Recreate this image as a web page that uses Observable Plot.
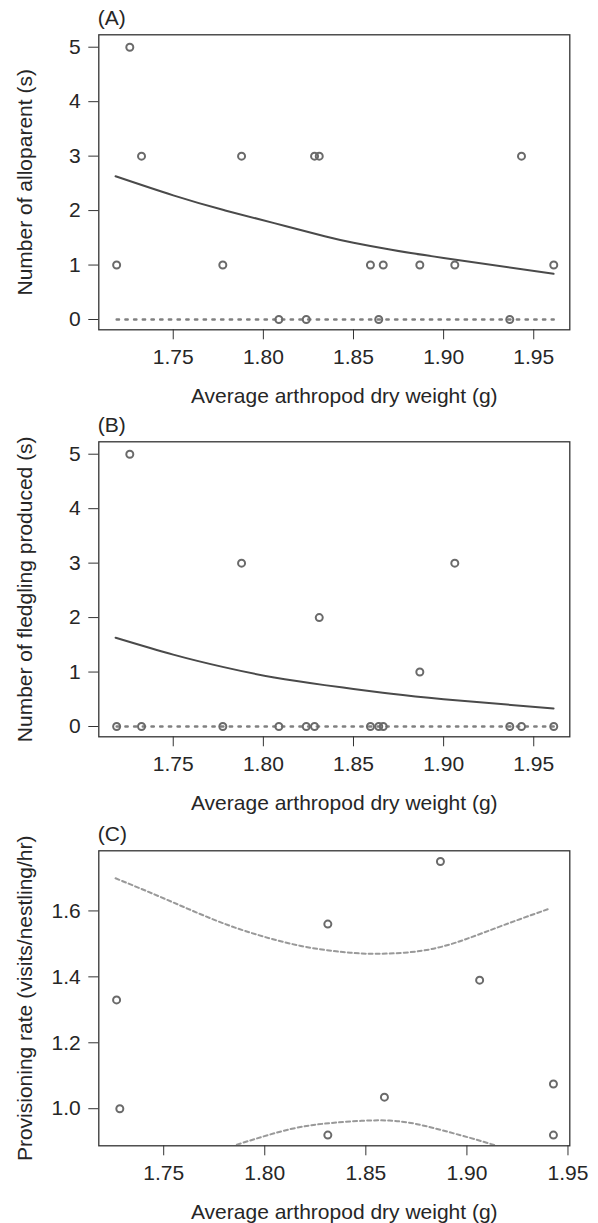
<!DOCTYPE html>
<html>
<head>
<meta charset="utf-8">
<script src="https://cdn.jsdelivr.net/npm/d3@7"></script>
<script src="https://cdn.jsdelivr.net/npm/@observablehq/plot@0.6"></script>
<style>
  html, body { margin: 0; padding: 0; background: #fff; }
  #chart svg { display: block; }
</style>
</head>
<body>
<div id="chart"></div>
<script>
// ---------- data ----------
const weightAB = [1.7186, 1.7259, 1.7324, 1.7775, 1.7879, 1.8086, 1.8238, 1.8284, 1.8310,
                  1.8594, 1.8640, 1.8665, 1.8868, 1.9062, 1.9367, 1.9432, 1.9611];
const alloparents = [1, 5, 3, 1, 3, 0, 0, 3, 3, 1, 0, 1, 1, 1, 0, 3, 1];
const fledglings  = [0, 5, 0, 0, 3, 0, 0, 0, 2, 0, 0, 0, 1, 3, 0, 0, 0];

const fitX  = [1.718, 1.750, 1.778, 1.806, 1.834, 1.850, 1.871, 1.900, 1.961];
const fitA  = [2.63, 2.28, 2.01, 1.77, 1.53, 1.41, 1.28, 1.13, 0.84];
const fitB  = [1.63, 1.32, 1.09, 0.90, 0.76, 0.69, 0.60, 0.50, 0.33];
const zeroX = [1.7186, 1.9611];
const zeroY = [0, 0];

const weightC = [1.7267, 1.7283, 1.8312, 1.8312, 1.8592, 1.8869, 1.9063, 1.9428, 1.9428];
const provRate = [1.33, 1.00, 1.56, 0.92, 1.035, 1.75, 1.39, 1.075, 0.92];

const upperX = [1.7262, 1.7451, 1.7633, 1.7814, 1.7995, 1.8185, 1.8374, 1.8556,
                1.8786, 1.8984, 1.9182, 1.9413];
const upperY = [1.699, 1.651, 1.603, 1.558, 1.522, 1.493, 1.476, 1.470,
                1.480, 1.512, 1.557, 1.608];
const lowerX = [1.7862, 1.8127, 1.8353, 1.8617, 1.8824, 1.9013, 1.9145];
const lowerY = [0.891, 0.938, 0.958, 0.964, 0.943, 0.912, 0.888];

const xTicks = [1.75, 1.80, 1.85, 1.90, 1.95];
const yTicksAB = [0, 1, 2, 3, 4, 5];
const yTicksC = [1.0, 1.2, 1.4, 1.6];

const xLabel = "Average arthropod dry weight (g)";
const yLabels = ["Number of alloparent (s)", "Number of fledgling produced (s)", "Provisioning rate (visits/nestling/hr)"];
const panelTags = ["(A)", "(B)", "(C)"];

// ---------- helpers ----------
const zip = (xs, ys) => xs.map((x, i) => ({x, y: ys[i]}));
const FONT = "'Liberation Sans', Arial, Helvetica, sans-serif";
const INK = "#262626";

function panel({height, tag, ylab, xDomain, yDomain, yTicks, yFormat, points, marks}) {
  return Plot.plot({
    width: 598,
    height,
    marginLeft: 98.3,
    marginRight: 28.7,
    marginTop: 34.3,
    marginBottom: height - 329.3,
    style: {fontFamily: FONT, fontSize: "21px", color: INK, background: "#fff", overflow: "visible"},
    x: {domain: xDomain},
    y: {domain: yDomain},
    marks: [
      ...marks,
      Plot.dot(points, {x: "x", y: "y", r: 3.5, stroke: "#6a6a6a", strokeWidth: 2, fill: "none"}),
      Plot.frame({stroke: "#333", strokeWidth: 1.3}),
      Plot.axisX({ticks: xTicks, tickFormat: d3.format(".2f"), tickSize: 10, tickPadding: 9, label: null, stroke: "#333"}),
      Plot.axisY({ticks: yTicks, tickFormat: yFormat, tickSize: 10, tickPadding: 8, label: null, stroke: "#333"}),
      Plot.text([xLabel], {frameAnchor: "bottom", textAnchor: "middle", lineAnchor: "bottom", dy: 73, dx: 10, fontSize: 21, fill: INK}),
      Plot.text([ylab], {frameAnchor: "left", textAnchor: "middle", lineAnchor: "bottom", rotate: -90, dx: -67, fontSize: 21, fill: INK}),
      Plot.text([tag], {frameAnchor: "top-left", textAnchor: "start", lineAnchor: "bottom", dx: -1, dy: -10.3, fontSize: 21, fill: INK})
    ]
  });
}

const chart = document.getElementById("chart");

chart.append(panel({
  height: 407, tag: panelTags[0], ylab: yLabels[0],
  xDomain: [1.7087, 1.9700], yDomain: [-0.189, 5.228], yTicks: yTicksAB, yFormat: d3.format("d"),
  points: zip(weightAB, alloparents),
  marks: [
    Plot.line(zip(zeroX, zeroY), {x: "x", y: "y", stroke: "#808080", strokeWidth: 2.4, strokeDasharray: "2.4,6.3"}),
    Plot.line(zip(fitX, fitA), {x: "x", y: "y", curve: "natural", stroke: "#4a4a4a", strokeWidth: 2})
  ]
}));

chart.append(panel({
  height: 409, tag: panelTags[1], ylab: yLabels[1],
  xDomain: [1.7087, 1.9700], yDomain: [-0.189, 5.228], yTicks: yTicksAB, yFormat: d3.format("d"),
  points: zip(weightAB, fledglings),
  marks: [
    Plot.line(zip(zeroX, zeroY), {x: "x", y: "y", stroke: "#808080", strokeWidth: 2.4, strokeDasharray: "2.4,6.3"}),
    Plot.line(zip(fitX, fitB), {x: "x", y: "y", curve: "natural", stroke: "#4a4a4a", strokeWidth: 2})
  ]
}));

chart.append(panel({
  height: 407, tag: panelTags[2], ylab: yLabels[2],
  xDomain: [1.7179, 1.9509], yDomain: [0.8875, 1.7824], yTicks: yTicksC, yFormat: d3.format(".1f"),
  points: zip(weightC, provRate),
  marks: [
    Plot.line(zip(upperX, upperY), {x: "x", y: "y", curve: "natural", stroke: "#999", strokeWidth: 2, strokeDasharray: "4,3"}),
    Plot.line(zip(lowerX, lowerY), {x: "x", y: "y", curve: "natural", stroke: "#999", strokeWidth: 2, strokeDasharray: "4,3", clip: true})
  ]
}));
</script>
</body>
</html>
